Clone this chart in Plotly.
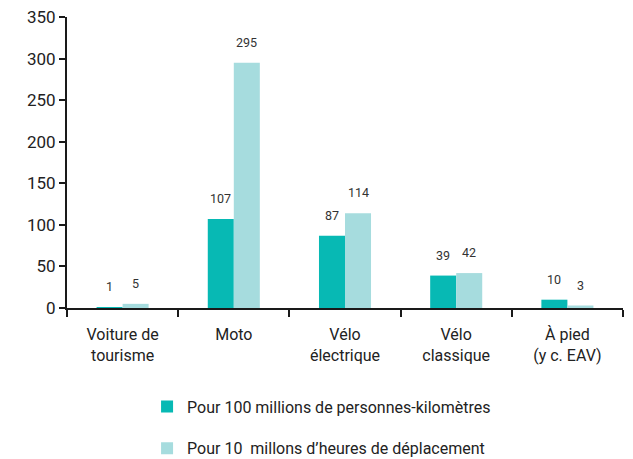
import plotly.graph_objects as go

categories = ["Voiture de<br>tourisme", "Moto", "Vélo<br>électrique", "Vélo<br>classique", "À pied<br>(y c. EAV)"]
series_km = [1, 107, 87, 39, 10]
series_hours = [5, 295, 114, 42, 3]
name_km = "Pour 100 millions de personnes-kilomètres"
name_hours = "Pour 10\u00a0 millons d’heures de déplacement"
y_ticks = [0, 50, 100, 150, 200, 250, 300, 350]

FONT = "Roboto, Arial"
C_KM = "#07B9B4"
C_HOURS = "#A6DCDE"

fig = go.Figure()
fig.add_trace(go.Bar(
    x=categories, y=series_km, name=name_km, legendgroup="a",
    marker=dict(color=C_KM, line=dict(width=0)),
))
fig.add_trace(go.Bar(
    x=categories, y=series_hours, name=name_hours, legendgroup="b",
    marker=dict(color=C_HOURS, line=dict(width=0)),
))

# value labels above bars
for vals, shift in ((series_km, -13), (series_hours, 13)):
    for c, v in zip(categories, vals):
        fig.add_annotation(
            x=c, y=v, text=str(v), showarrow=False,
            xanchor="center", yanchor="bottom", xshift=shift, yshift=11,
            font=dict(size=12.5, color="#333333", family=FONT),
        )

fig.update_layout(
    width=633, height=459,
    margin=dict(l=67, r=10, t=17, b=151, autoexpand=False),
    plot_bgcolor="white", paper_bgcolor="white",
    barmode="group", bargap=0.532, bargroupgap=0.0,
    font=dict(family=FONT, size=16, color="#222222"),
    legend=dict(
        orientation="v", x=0.144, y=-0.28, xanchor="left", yanchor="top",
        font=dict(size=16, family=FONT, color="#222222"),
        tracegroupgap=18, traceorder="grouped",
    ),
    xaxis=dict(
        showline=True, linecolor="#1a1a1a", linewidth=2,
        ticks="outside", tickson="boundaries", ticklen=7, tickwidth=2, tickcolor="#1a1a1a",
        tickfont=dict(size=16, family=FONT, color="#222222"),
        ticklabelstandoff=11,
        showgrid=False,
    ),
    yaxis=dict(
        range=[0, 350], tickvals=y_ticks,
        showline=True, linecolor="#1a1a1a", linewidth=2,
        ticks="outside", ticklen=6, tickwidth=2, tickcolor="#1a1a1a",
        tickfont=dict(size=17, family=FONT, color="#222222"),
        ticklabeloverflow="allow",
        showgrid=False, zeroline=False,
    ),
)
fig.write_html(
    "out.html",
    config={"displayModeBar": False},
    post_script="document.body.style.margin='0px';document.body.style.overflow='hidden';",
)
